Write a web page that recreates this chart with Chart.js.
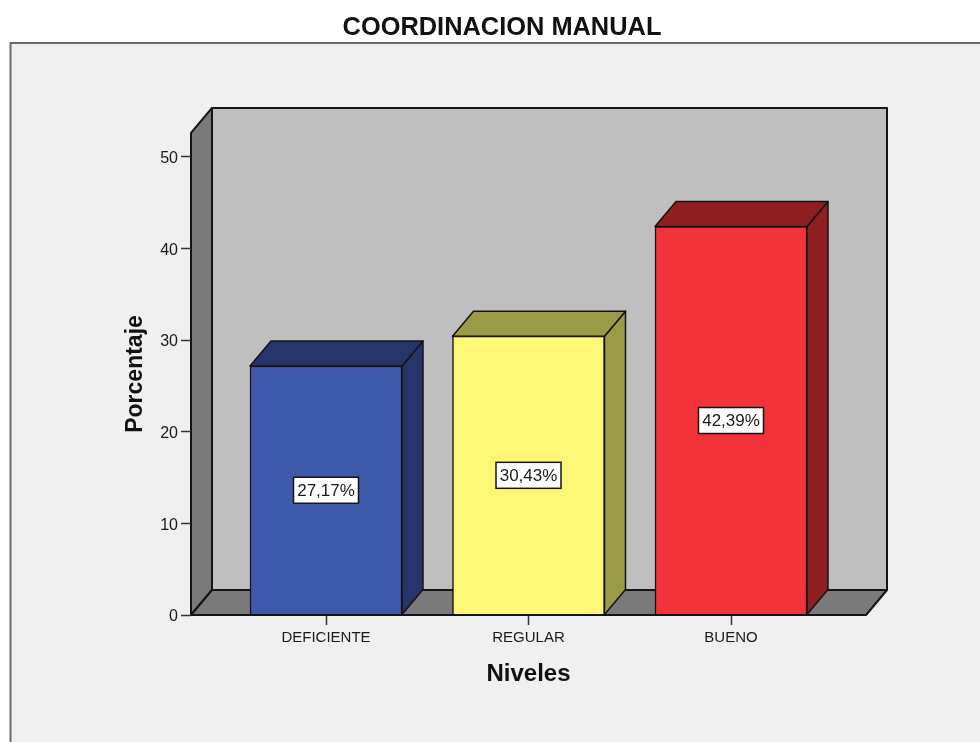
<!DOCTYPE html>
<html><head><meta charset="utf-8">
<style>html,body{margin:0;padding:0;background:#fff}#w{width:980px;height:742px;position:relative}canvas{display:block;filter:blur(0.35px)}</style>
<script src="https://cdn.jsdelivr.net/npm/chart.js@4/dist/chart.umd.min.js"></script>
</head><body><div id="w"><canvas id="c" width="980" height="742"></canvas></div>
<script>
const chartTitle = 'COORDINACION MANUAL';
const categories = ['DEFICIENTE', 'REGULAR', 'BUENO'];
const porcentaje = [27.17, 30.43, 42.39];
const etiquetas = ['27,17%', '30,43%', '42,39%'];
const frontColors = ['#3e59a9', '#fcf774', '#f2333a'];
const sideColors = ['#25356a', '#9b9a47', '#8f1e21'];
const yTicks = [0, 10, 20, 30, 40, 50];
const depthX = 21, depthY = 25;
const INK = '#141414';

function poly(ctx, pts, fill, lw) {
  ctx.beginPath();
  pts.forEach((p, i) => i ? ctx.lineTo(p[0], p[1]) : ctx.moveTo(p[0], p[1]));
  ctx.closePath();
  ctx.fillStyle = fill; ctx.fill();
  ctx.lineWidth = lw; ctx.strokeStyle = INK; ctx.lineJoin = 'round'; ctx.stroke();
}

const box3d = {
  id: 'box3d',
  beforeDraw(chart) {
    const { ctx, chartArea: a } = chart;
    ctx.save();
    ctx.fillStyle = '#f0f0f0';
    ctx.fillRect(10, 43, 970, 699);
    ctx.strokeStyle = '#6a6a6a'; ctx.lineWidth = 2;
    ctx.beginPath(); ctx.moveTo(10.5, 742); ctx.lineTo(10.5, 43); ctx.lineTo(980, 43); ctx.stroke();
    const L = a.left, R = a.right, T = a.top, B = a.bottom;
    poly(ctx, [[L + depthX, T - depthY], [R + depthX, T - depthY], [R + depthX, B - depthY], [L + depthX, B - depthY]], '#bfbfbf', 2);
    poly(ctx, [[L, T], [L + depthX, T - depthY], [L + depthX, B - depthY], [L, B]], '#7a7a7a', 2);
    poly(ctx, [[L, B], [L + depthX, B - depthY], [R + depthX, B - depthY], [R, B]], '#7a7a7a', 2);
    ctx.restore();
  },
  beforeDatasetsDraw(chart) {
    const { ctx } = chart;
    ctx.save();
    chart.getDatasetMeta(0).data.forEach((el, i) => {
      const l = el.x - el.width / 2, r = el.x + el.width / 2, t = el.y, b = el.base;
      poly(ctx, [[r, t], [r + depthX, t - depthY], [r + depthX, b - depthY], [r, b]], sideColors[i], 1.5);
      poly(ctx, [[l, t], [l + depthX, t - depthY], [r + depthX, t - depthY], [r, t]], sideColors[i], 1.5);
    });
    ctx.restore();
  },
  afterDatasetsDraw(chart) {
    const { ctx, chartArea: a } = chart;
    ctx.save();
    ctx.strokeStyle = INK; ctx.lineWidth = 2;
    ctx.beginPath(); ctx.moveTo(a.left, a.bottom); ctx.lineTo(a.right, a.bottom); ctx.stroke();
    ctx.font = '17px "Liberation Sans"';
    ctx.textAlign = 'center'; ctx.textBaseline = 'middle';
    chart.getDatasetMeta(0).data.forEach((el, i) => {
      const cy = (el.y + el.base) / 2, w = 66, h = 26;
      ctx.fillStyle = '#fff'; ctx.fillRect(el.x - w / 2 + 0.5, cy - h / 2, w - 1, h);
      ctx.lineWidth = 1.5; ctx.strokeStyle = INK; ctx.strokeRect(el.x - w / 2 + 0.5, cy - h / 2, w - 1, h);
      ctx.fillStyle = '#1a1a1a'; ctx.fillText(etiquetas[i], el.x, cy + 1);
    });
    ctx.restore();
  }
};

new Chart(document.getElementById('c'), {
  type: 'bar',
  data: { datasets: [{
    data: categories.map((c, i) => ({ x: i + 1, y: porcentaje[i] })),
    backgroundColor: frontColors, borderColor: INK, borderWidth: 1.5, barThickness: 152
  }] },
  plugins: [box3d],
  options: {
    responsive: false, animation: false, events: [],
    layout: { padding: { left: 138, right: 114, top: 0, bottom: 0 } },
    plugins: {
      legend: { display: false }, tooltip: { enabled: false },
      title: { display: true, text: chartTitle, color: '#111',
        font: { family: '"Liberation Sans"', size: 25.4, weight: 'bold', lineHeight: 1.2 },
        padding: { top: 13, bottom: 89.5 } }
    },
    scales: {
      x: { type: 'linear', min: 1 / 3, max: 11 / 3, offset: false,
        afterBuildTicks(s) { s.ticks = categories.map((c, i) => ({ value: i + 1 })); },
        afterFit(s) { s.height = 127; },
        grid: { offset: false, drawOnChartArea: false, drawTicks: true, tickLength: 10, tickColor: '#333', tickWidth: 1.5 },
        border: { display: false },
        ticks: { autoSkip: false, maxRotation: 0, padding: 4, color: '#1a1a1a',
          font: { family: '"Liberation Sans"', size: 15 },
          callback(v) { return categories[v - 1]; } },
        title: { display: true, text: 'Niveles', color: '#111',
          font: { family: '"Liberation Sans"', size: 24, weight: 'bold' }, padding: { top: 14, bottom: 53 } }
      },
      y: { min: 0, max: 52.6,
        afterBuildTicks(s) { s.ticks = yTicks.map(v => ({ value: v })); },
        afterFit(s) { s.width = 53; },
        grid: { drawOnChartArea: false, drawTicks: true, tickLength: 10, tickColor: '#333', tickWidth: 1.5 },
        border: { display: false },
        ticks: { padding: 3, labelOffset: 2, color: '#1a1a1a', font: { family: '"Liberation Sans"', size: 16 } },
        title: { display: true, text: 'Porcentaje', color: '#111',
          font: { family: '"Liberation Sans"', size: 23, weight: 'bold' }, padding: { top: -16.5, bottom: 0 } }
      }
    }
  }
});
</script></body></html>
